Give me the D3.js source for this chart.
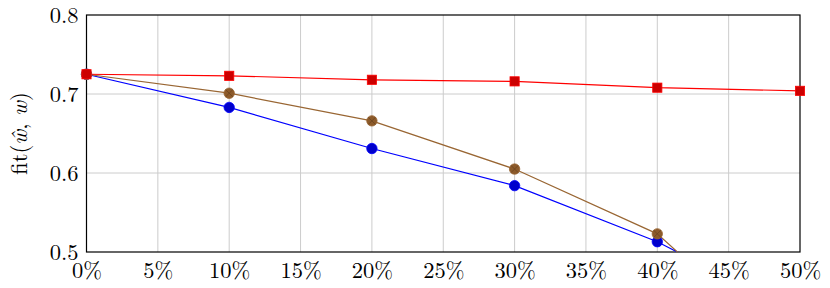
<!DOCTYPE html>
<html>
<head>
<meta charset="utf-8">
<script src="https://cdn.jsdelivr.net/npm/d3@7"></script>
<style>
  body { margin: 0; background: #fff; }
</style>
</head>
<body>
<script>
// data
var xValues = [0, 10, 20, 30, 40, 50];
var redValues = [0.725, 0.723, 0.718, 0.716, 0.708, 0.704];
var blueValues = [0.725, 0.683, 0.631, 0.584, 0.513, 0.42];
var brownValues = [0.725, 0.701, 0.666, 0.605, 0.523, 0.36];
var xTicks = [0, 5, 10, 15, 20, 25, 30, 35, 40, 45, 50];
var yTicks = [0.5, 0.6, 0.7, 0.8];

var W = 830, H = 288;
var margin = {top: 15, right: 30, bottom: 36, left: 86.5};
var w = W - margin.left - margin.right;
var h = H - margin.top - margin.bottom;
var fontName = "'Latin Modern Roman', 'Liberation Serif', serif";

var svg = d3.select("body").append("svg")
    .attr("width", W)
    .attr("height", H);

var g = svg.append("g")
    .attr("transform", "translate(" + margin.left + "," + margin.top + ")");

var xScale = d3.scaleLinear().domain([0, 50]).range([0, w]);
var yScale = d3.scaleLinear().domain([0.5, 0.8]).range([h, 0]);

g.append("clipPath").attr("id", "clip")
    .append("rect").attr("x", -8).attr("y", -8).attr("width", w + 16).attr("height", h + 8);

// grid
g.selectAll(".vgrid").data(xTicks.slice(1, -1)).enter().append("line")
    .attr("x1", function(d) { return xScale(d); })
    .attr("x2", function(d) { return xScale(d); })
    .attr("y1", 0).attr("y2", h)
    .attr("stroke", "#cccccc").attr("stroke-width", 1);
g.selectAll(".hgrid").data(yTicks.slice(1, -1)).enter().append("line")
    .attr("y1", function(d) { return yScale(d); })
    .attr("y2", function(d) { return yScale(d); })
    .attr("x1", 0).attr("x2", w)
    .attr("stroke", "#cccccc").attr("stroke-width", 1);

// axes
var xAxis = g.append("g").attr("transform", "translate(0," + h + ")")
    .call(d3.axisBottom(xScale).tickValues(xTicks).tickSize(0).tickPadding(10)
        .tickFormat(function(d) { return d + "%"; }));
xAxis.attr("font-family", fontName).attr("font-size", 22.5);
xAxis.select(".domain").remove();
xAxis.selectAll("text").attr("fill", "#000");

var yAxis = g.append("g")
    .call(d3.axisLeft(yScale).tickValues(yTicks).tickSize(0).tickPadding(8)
        .tickFormat(d3.format(".1f")));
yAxis.attr("font-family", fontName).attr("font-size", 22.5);
yAxis.select(".domain").remove();
yAxis.selectAll("text").attr("fill", "#000");

// frame
g.append("rect").attr("x", 0).attr("y", 0).attr("width", w).attr("height", h)
    .attr("fill", "none").attr("stroke", "#000").attr("stroke-width", 1.2);

// y label
svg.append("text")
    .attr("transform", "translate(27," + (margin.top + h / 2) + ") rotate(-90)")
    .attr("text-anchor", "middle")
    .attr("font-family", fontName)
    .attr("font-size", 22.5)
    .html("fit(<tspan font-style='italic'>ŵ</tspan>, <tspan font-style='italic'>w</tspan>)");

var line = d3.line()
    .x(function(d, i) { return xScale(xValues[i]); })
    .y(function(d) { return yScale(d); });

var plot = g.append("g").attr("clip-path", "url(#clip)");

function drawLine(vals, color) {
    plot.append("path").datum(vals)
        .attr("d", line)
        .attr("fill", "none")
        .attr("stroke", color)
        .attr("stroke-width", 1.2);
}
drawLine(blueValues, "#0000ff");
drawLine(brownValues, "#996633");
drawLine(redValues, "#ff0000");

// markers: blue circles
plot.selectAll(".blue").data(blueValues).enter().append("circle")
    .attr("cx", function(d, i) { return xScale(xValues[i]); })
    .attr("cy", function(d) { return yScale(d); })
    .attr("r", 5.2)
    .attr("fill", "#0000cc").attr("stroke", "#0000ff").attr("stroke-width", 0.8);

// brown otimes
var brown = plot.selectAll(".brown").data(brownValues).enter().append("g")
    .attr("transform", function(d, i) {
        return "translate(" + xScale(xValues[i]) + "," + yScale(d) + ")";
    });
brown.append("circle").attr("r", 5.2)
    .attr("fill", "#8c5a2a").attr("stroke", "#996633").attr("stroke-width", 0.8);
brown.append("path").attr("d", "M-3.6,-3.6L3.6,3.6M-3.6,3.6L3.6,-3.6")
    .attr("stroke", "#6b4420").attr("stroke-width", 0.8);

// red squares
plot.selectAll(".red").data(redValues).enter().append("rect")
    .attr("x", function(d, i) { return xScale(xValues[i]) - 4.6; })
    .attr("y", function(d) { return yScale(d) - 4.6; })
    .attr("width", 9.2).attr("height", 9.2)
    .attr("fill", "#cc0000").attr("stroke", "#ff0000").attr("stroke-width", 0.8);
</script>
</body>
</html>
